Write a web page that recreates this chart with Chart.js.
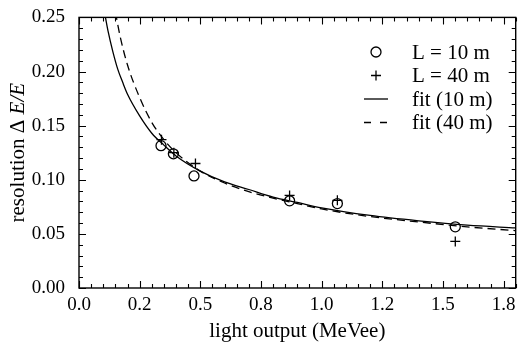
<!DOCTYPE html>
<html lang="en">
<head>
    <meta charset="UTF-8">
    <title>Resolution vs light output</title>
    <script src="https://cdn.jsdelivr.net/npm/chart.js"></script>
    <style>
        body { margin: 0; background: #fff; }
        #wrap { width: 522px; height: 346px; }
    </style>
</head>
<body>
    <div id="wrap"><canvas id="resChart" width="522" height="346"></canvas></div>

    <script>
        const lightOutput10 = [0.338, 0.389, 0.474, 0.868, 1.065, 1.551];
        const resolution10 = [0.1315, 0.124, 0.1035, 0.0805, 0.078, 0.0565];
        const lightOutput40 = [0.340, 0.391, 0.480, 0.868, 1.065, 1.551];
        const resolution40 = [0.137, 0.125, 0.115, 0.0855, 0.081, 0.043];

        // Fit curves, sampled by eye along the drawn lines
        const fitX10 = [0.105, 0.12, 0.14, 0.16, 0.18, 0.2, 0.25, 0.3, 0.35, 0.4, 0.5, 0.6, 0.7, 0.8, 0.9, 1.0, 1.2, 1.4, 1.6, 1.8];
        const fitY10 = [0.255, 0.237, 0.218, 0.202, 0.19, 0.179, 0.159, 0.143, 0.132, 0.122, 0.108, 0.098, 0.091, 0.084, 0.079, 0.074, 0.067, 0.062, 0.058, 0.0555];
        const fitX40 = [0.15, 0.17, 0.2, 0.25, 0.3, 0.35, 0.4, 0.5, 0.6, 0.7, 0.8, 0.9, 1.0, 1.2, 1.4, 1.6, 1.8];
        const fitY40 = [0.255, 0.232, 0.206, 0.176, 0.153, 0.137, 0.125, 0.108, 0.097, 0.089, 0.083, 0.078, 0.073, 0.066, 0.061, 0.0565, 0.053];

        const seriesLabels = ['L = 10 m', 'L = 40 m', 'fit (10 m)', 'fit (40 m)'];

        // Axis ticks
        const xTickValues = [0, 0.25, 0.5, 0.75, 1.0, 1.25, 1.5, 1.75];
        const xTickLabels = ['0.0', '0.2', '0.5', '0.8', '1.0', '1.2', '1.5', '1.8'];
        const yTickValues = [0, 0.05, 0.1, 0.15, 0.2, 0.25];
        const yTickLabels = ['0.00', '0.05', '0.10', '0.15', '0.20', '0.25'];

        const SERIF = '"Liberation Serif", "Times New Roman", serif';

        function toPoints(xs, ys) {
            return xs.map((x, i) => ({ x: x, y: ys[i] }));
        }

        // Frame with inward ticks on all sides, legend and axis titles
        const framePlugin = {
            id: 'frame',
            afterDraw(chart) {
                const ctx = chart.ctx;
                const a = chart.chartArea;
                const xs = chart.scales.x, ys = chart.scales.y;
                ctx.save();
                ctx.strokeStyle = '#000';
                ctx.lineWidth = 1.4;
                ctx.strokeRect(a.left, a.top, a.right - a.left, a.bottom - a.top);

                ctx.lineWidth = 1.1;
                ctx.beginPath();
                for (let i = 0; i <= 36; i++) {
                    const v = i * 0.05;
                    const px = Math.round(xs.getPixelForValue(v)) + 0.5;
                    const len = (i % 5 === 0) ? 7 : 4;
                    ctx.moveTo(px, a.bottom); ctx.lineTo(px, a.bottom - len);
                    ctx.moveTo(px, a.top); ctx.lineTo(px, a.top + len);
                }
                for (let i = 0; i <= 25; i++) {
                    const v = i * 0.01;
                    const py = Math.round(ys.getPixelForValue(v)) + 0.5;
                    const len = (i % 5 === 0) ? 7 : 4;
                    ctx.moveTo(a.left, py); ctx.lineTo(a.left + len, py);
                    ctx.moveTo(a.right, py); ctx.lineTo(a.right - len, py);
                }
                ctx.stroke();

                // legend
                const lx = 376, tx = 412, ly0 = 52, dy = 23.5;
                ctx.font = '21px ' + SERIF;
                ctx.fillStyle = '#000';
                ctx.textBaseline = 'middle';
                ctx.textAlign = 'left';
                ctx.lineWidth = 1.3;
                seriesLabels.forEach((label, i) => {
                    const y = ly0 + i * dy;
                    ctx.beginPath();
                    if (i === 0) {
                        ctx.arc(lx, y, 5, 0, Math.PI * 2);
                    } else if (i === 1) {
                        ctx.moveTo(lx - 5, y); ctx.lineTo(lx + 5, y);
                        ctx.moveTo(lx, y - 5); ctx.lineTo(lx, y + 5);
                    } else if (i === 2) {
                        ctx.moveTo(lx - 12, y); ctx.lineTo(lx + 12, y);
                    } else {
                        ctx.moveTo(lx - 12, y); ctx.lineTo(lx - 5, y);
                        ctx.moveTo(lx + 4, y); ctx.lineTo(lx + 11, y);
                    }
                    ctx.stroke();
                    ctx.fillText(label, tx, y + 1);
                });

                // x title
                ctx.textAlign = 'center';
                ctx.textBaseline = 'alphabetic';
                ctx.fillText('light output (MeVee)', (a.left + a.right) / 2, 337);

                // y title, with italic E/E
                const plain = 'resolution \u0394 ';
                const ital = 'E/E';
                ctx.font = '21px ' + SERIF;
                const w1 = ctx.measureText(plain).width;
                ctx.font = 'italic 21px ' + SERIF;
                const w2 = ctx.measureText(ital).width;
                ctx.translate(18, (a.top + a.bottom) / 2);
                ctx.rotate(-Math.PI / 2);
                ctx.textAlign = 'left';
                ctx.textBaseline = 'middle';
                const start = -(w1 + w2) / 2;
                ctx.font = '21px ' + SERIF;
                ctx.fillText(plain, start, 0);
                ctx.font = 'italic 21px ' + SERIF;
                ctx.fillText(ital, start + w1, 0);
                ctx.restore();
            }
        };

        const ctx = document.getElementById('resChart').getContext('2d');
        new Chart(ctx, {
            type: 'scatter',
            data: {
                datasets: [
                    {
                        label: seriesLabels[0],
                        data: toPoints(lightOutput10, resolution10),
                        pointStyle: 'circle',
                        pointRadius: 5,
                        borderColor: '#000',
                        backgroundColor: 'rgba(0,0,0,0)',
                        borderWidth: 1.3
                    },
                    {
                        label: seriesLabels[1],
                        data: toPoints(lightOutput40, resolution40),
                        pointStyle: 'cross',
                        pointRadius: 5,
                        borderColor: '#000',
                        backgroundColor: '#000',
                        borderWidth: 1.3
                    },
                    {
                        label: seriesLabels[2],
                        data: toPoints(fitX10, fitY10),
                        showLine: true,
                        pointRadius: 0,
                        borderColor: '#000',
                        borderWidth: 1.3,
                        cubicInterpolationMode: 'monotone',
                        fill: false
                    },
                    {
                        label: seriesLabels[3],
                        data: toPoints(fitX40, fitY40),
                        showLine: true,
                        pointRadius: 0,
                        borderColor: '#000',
                        borderWidth: 1.3,
                        borderDash: [8, 5],
                        cubicInterpolationMode: 'monotone',
                        fill: false
                    }
                ]
            },
            options: {
                responsive: false,
                animation: false,
                devicePixelRatio: 1,
                layout: { padding: { top: 13, right: 1, left: 0, bottom: 0 } },
                plugins: {
                    legend: { display: false },
                    tooltip: { enabled: false }
                },
                scales: {
                    x: {
                        type: 'linear',
                        min: 0,
                        max: 1.8,
                        grid: { display: false },
                        border: { display: false },
                        afterBuildTicks: s => { s.ticks = xTickValues.map(v => ({ value: v })); },
                        afterFit: s => { s.height = 58; },
                        ticks: {
                            color: '#000',
                            padding: -2,
                            maxRotation: 0,
                            autoSkip: false,
                            font: { family: SERIF, size: 19 },
                            callback: (v) => xTickLabels[xTickValues.indexOf(v)]
                        }
                    },
                    y: {
                        type: 'linear',
                        min: 0,
                        max: 0.25,
                        grid: { display: false },
                        border: { display: false },
                        afterBuildTicks: s => { s.ticks = yTickValues.map(v => ({ value: v })); },
                        afterFit: s => { s.width = 79; },
                        ticks: {
                            color: '#000',
                            padding: 6,
                            autoSkip: false,
                            font: { family: SERIF, size: 19 },
                            callback: (v) => yTickLabels[yTickValues.indexOf(v)]
                        }
                    }
                }
            },
            plugins: [framePlugin]
        });
    </script>
</body>
</html>
